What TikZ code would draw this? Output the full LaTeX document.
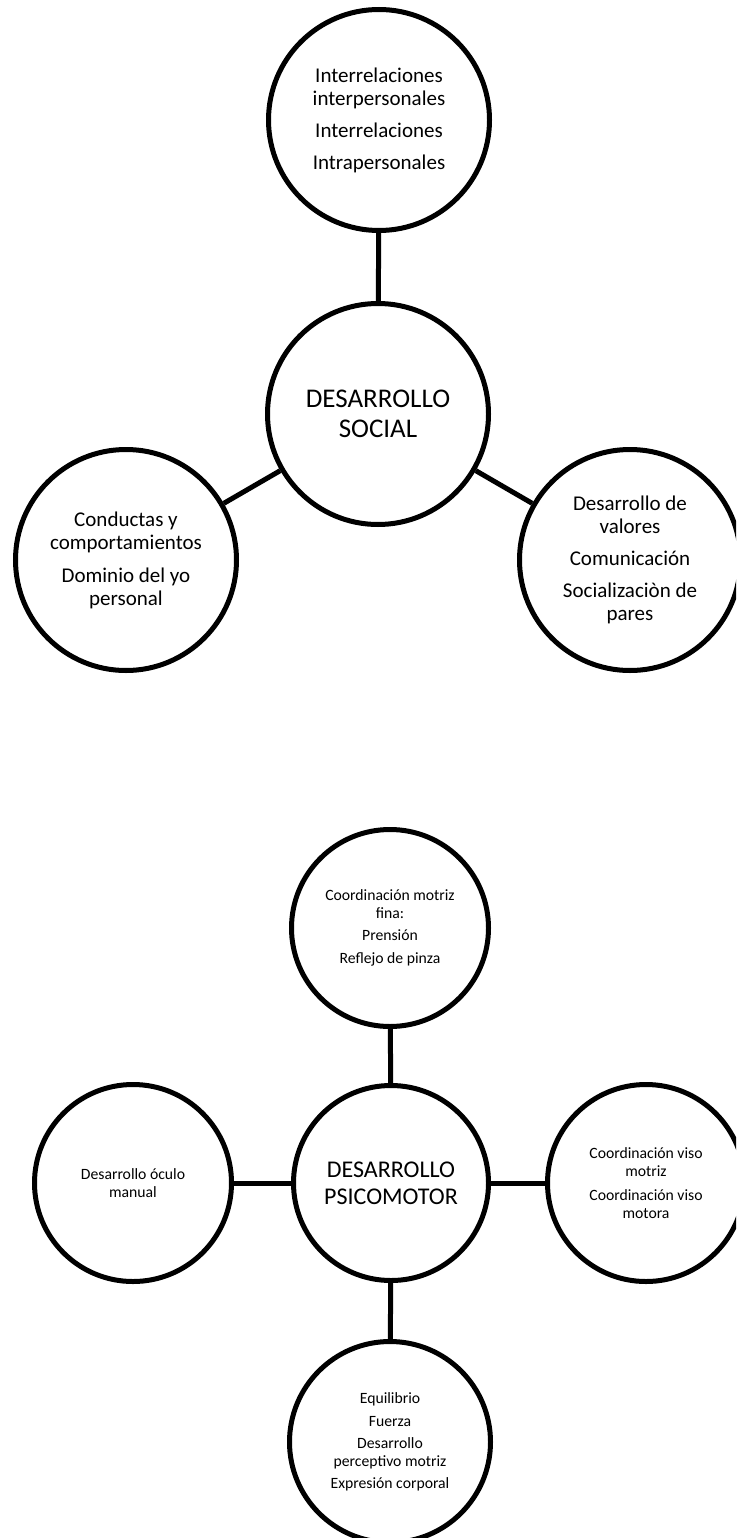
\documentclass[tikz,border=0pt]{standalone}
\usepackage{fontspec}
\setmainfont{Carlito}
\begin{document}
\begin{tikzpicture}[x=1pt, y=-1pt,
  bubble/.style={circle, draw=black, line width=5pt, fill=white, align=center, inner sep=0pt},
  socialbig/.style={bubble, minimum size=221pt, font=\fontsize{21}{23}\selectfont},
  socialhub/.style={bubble, minimum size=221pt, font=\fontsize{27}{30}\selectfont},
  motorsmall/.style={bubble, minimum size=197pt, font=\fontsize{15.7}{17.5}\selectfont},
  motorhub/.style={bubble, minimum size=195pt, font=\fontsize{24}{27}\selectfont},
  link/.style={draw=black, line width=5pt}]
\useasboundingbox (0,0) rectangle (736,1538);
\clip (0,0) rectangle (736,1538);

% --- Desarrollo social ---
\node[socialhub] (sHub) at (378,414) {DESARROLLO\\SOCIAL};
\node[socialbig] (sTop) at (379,120)
  {Interrelaciones\\interpersonales\\[9pt]Interrelaciones\\[9pt]Intrapersonales};
\node[socialbig] (sLeft) at (126,560)
  {Conductas y\\comportamientos\\[10pt]Dominio del yo\\personal};
\node[socialbig] (sRight) at (630,560)
  {Desarrollo de\\valores\\[9pt]Comunicación\\[9pt]Socializaciòn de\\pares};

\draw[link] (sTop) -- (sHub);
\draw[link] (sHub) -- (sLeft);
\draw[link] (sHub) -- (sRight);

% --- Desarrollo psicomotor ---
\node[motorhub] (pHub) at (391,1183) {DESARROLLO\\PSICOMOTOR};
\node[motorsmall] (pTop) at (390,928)
  {Coordinación motriz\\fina:\\[5pt]Prensión\\[5pt]Reflejo de pinza};
\node[motorsmall] (pLeft) at (133,1183) {Desarrollo óculo\\manual};
\node[motorsmall] (pRight) at (646,1183)
  {Coordinación viso\\motriz\\[7pt]Coordinación viso\\motora};
\node[motorsmall, minimum size=201pt] (pBottom) at (390,1442)
  {Equilibrio\\[5pt]Fuerza\\[5pt]Desarrollo\\perceptivo motriz\\[5pt]Expresión corporal};

\draw[link] (pTop) -- (pHub);
\draw[link] (pLeft) -- (pHub);
\draw[link] (pHub) -- (pRight);
\draw[link] (pHub) -- (pBottom);
\end{tikzpicture}
\end{document}
